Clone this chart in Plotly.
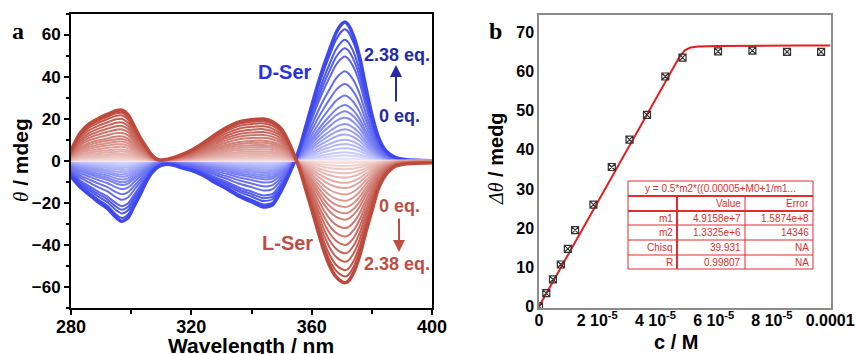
import numpy as np
import plotly.graph_objects as go

# ---------------- Panel a: CD titration spectra ----------------
wavelength = [280, 283, 286, 289, 292, 295, 297, 299, 301, 303, 305, 307, 309, 311,
              314, 317, 320, 324, 328, 332, 336, 340, 344, 347, 350, 352, 354, 356,
              358, 360, 362, 364, 366, 368, 370, 371, 372, 374, 376, 378, 380, 382,
              384, 386, 388, 391, 395, 400]

# spectra at 2.38 eq.
d_ser_final = [-7.5, -12.5, -16, -19.5, -22.5, -27, -28.8, -27, -21.5, -16, -10, -5.5, -2.8, -1.8,
               -2, -3.5, -4.5, -7, -10.5, -13.5, -17, -19.5, -22, -21, -14, -8, -1.5, 6,
               16, 26, 36, 45, 53, 60.5, 65, 66, 65, 59, 49, 35, 22, 12,
               6, 3, 1.5, 0.6, 0.2, 0]
l_ser_final = [5, 13, 17.5, 20, 22, 23.8, 24, 21.8, 16.5, 11, 6.5, 2.5, 0.5, 0.5,
               1.5, 3, 5, 8.5, 12.5, 16, 18.5, 19.5, 19.8, 18.5, 15, 10, 3.5, -4,
               -13.5, -23, -33, -42.5, -50, -55, -57.5, -58, -57.5, -53, -45, -34, -24, -14,
               -8, -4.5, -2.5, -1.5, -1.2, -1]

# band intensity at 371 nm for each addition (0 eq. -> 2.38 eq.)
d_ser_peak = [0, 1, 2.5, 4, 6, 8, 10, 12.5, 15, 17.5, 20.5, 23.5, 26.5, 31, 36.5,
              42.5, 49.5, 53.5, 57.5, 62.5, 66]
l_ser_peak = [0, -1, -2.5, -4, -6, -8, -10.5, -13, -16, -19, -22, -25, -28, -32, -36,
              -40, -44, -48, -52, -55, -58]

# ---------------- Panel b: titration curve ----------------
conc = [0, 2.5e-6, 4.8e-6, 7.5e-6, 9.9e-6, 1.24e-5, 1.87e-5, 2.5e-5, 3.11e-5, 3.71e-5,
        4.34e-5, 4.93e-5, 6.15e-5, 7.33e-5, 8.52e-5, 9.69e-5]
dtheta = [0, 3.4, 6.9, 10.7, 14.7, 19.5, 26.0, 35.6, 42.6, 48.9,
          58.7, 63.5, 65.1, 65.3, 65.0, 65.0]

# fitted parameters
m1 = 4.9158e7
m2 = 1.3325e6
c0 = 0.00005

table_header = "y = 0.5*m2*((0.00005+M0+1/m1..."
table_cols = ["", "Value", "Error"]
table_rows = [["m1", "4.9158e+7", "1.5874e+8"],
              ["m2", "1.3325e+6", "14346"],
              ["Chisq", "39.931", "NA"],
              ["R", "0.99807", "NA"]]

W, H = 856, 354


def px(x):
    return x / W


def py(y):
    return 1 - y / H


fig = go.Figure()


def mix(c_light, c_dark, t):
    return "rgb(%d,%d,%d)" % tuple(int(round(a + (b - a) * t)) for a, b in zip(c_light, c_dark))


def add_family(final, peaks, light, dark):
    n = len(peaks)
    ref = peaks[-1]
    for k, p in enumerate(peaks):
        t = (k / (n - 1)) ** 0.8
        y = [v * p / ref for v in final]
        fig.add_trace(go.Scatter(
            x=wavelength, y=y, mode="lines",
            line=dict(color=mix(light, dark, t), width=3.5 if k == n - 1 else 2, shape="spline", smoothing=0.6),
            xaxis="x", yaxis="y", showlegend=False, hoverinfo="skip"))


add_family(d_ser_final, d_ser_peak, (238, 240, 255), (62, 72, 236))
add_family(l_ser_final, l_ser_peak, (250, 236, 233), (190, 74, 62))

# titration data and fit
xf = np.linspace(0, 1e-4, 400)
s = c0 + xf + 1 / m1
yf = 0.5 * m2 * (s - np.sqrt(s ** 2 - 4 * c0 * xf))
fig.add_trace(go.Scatter(x=xf, y=yf, mode="lines", line=dict(color="rgb(228,30,30)", width=2),
                         xaxis="x2", yaxis="y2", showlegend=False))
fig.add_trace(go.Scatter(x=conc, y=dtheta, mode="markers",
                         marker=dict(symbol="square-x-open", size=7, color="#333333", line=dict(width=1.2)),
                         xaxis="x2", yaxis="y2", showlegend=False))

tickfont_a_y = dict(family="Liberation Sans", size=17, color="black", weight="bold")
tickfont_a_x = dict(family="Liberation Sans", size=18, color="black", weight="bold")
tickfont_b = dict(family="Liberation Sans", size=16, color="black", weight="bold")

fig.update_layout(
    width=W, height=H, margin=dict(l=0, r=0, t=0, b=0, autoexpand=False),
    plot_bgcolor="white", paper_bgcolor="white",
    xaxis=dict(domain=[px(71), px(432)], range=[280, 400], tickvals=[280, 320, 360, 400], automargin=False,
               showgrid=False, zeroline=False, showline=True, linecolor="black", linewidth=2, mirror=True,
               ticks="outside", ticklen=5, tickwidth=2, tickcolor="black", tickfont=tickfont_a_x,
               ticklabelstandoff=-4,
               minor=dict(tickvals=[300, 340, 380], ticks="outside", ticklen=4, tickwidth=1.5, tickcolor="black")),
    yaxis=dict(domain=[py(308), py(13.5)], range=[-70, 70], tickvals=[-60, -40, -20, 0, 20, 40, 60],
               automargin=False,
               showgrid=False, zeroline=False, showline=True, linecolor="black", linewidth=2, mirror=True,
               ticks="outside", ticklen=5, tickwidth=2, tickcolor="black", tickfont=tickfont_a_y,
               minor=dict(tickvals=[-70, -50, -30, -10, 10, 30, 50, 70], ticks="outside", ticklen=3,
                          tickwidth=1.5, tickcolor="black")),
    xaxis2=dict(domain=[px(539), px(831)], range=[0, 1.003e-4], anchor="y2", automargin=False,
                tickvals=[0, 2e-5, 4e-5, 6e-5, 8e-5, 1e-4],
                ticktext=["0", "2 10<sup>-5</sup>", "4 10<sup>-5</sup>", "6 10<sup>-5</sup>",
                          "8 10<sup>-5</sup>", "0.0001"],
                showgrid=False, zeroline=False, showline=True, linecolor="#8c8c8c", linewidth=1.5, mirror=True,
                ticks="", tickfont=tickfont_b, ticklabelstandoff=-3),
    yaxis2=dict(domain=[py(308), py(15)], range=[-0.4, 74.4], anchor="x2", automargin=False,
                tickvals=[0, 10, 20, 30, 40, 50, 60, 70],
                showgrid=False, zeroline=False, showline=True, linecolor="#8c8c8c", linewidth=1.5, mirror=True,
                ticks="", tickfont=tickfont_b),
)

ann = []


def label(x, y, text, font, xanchor="center", textangle=0):
    ann.append(dict(x=px(x), y=py(y), xref="paper", yref="paper", showarrow=False, text=text,
                    font=font, xanchor=xanchor, yanchor="middle", textangle=textangle))


# axis titles
label(251, 345, "<b>Wavelength / nm</b>", dict(family="Liberation Sans", size=21, color="black"))
label(21, 160, "<span style=\"font-family:Liberation Serif\"><i>θ</i></span><b> / mdeg</b>",
      dict(family="Liberation Sans", size=21, color="black"), textangle=-90)
label(676, 342, "<b>c / M</b>", dict(family="Liberation Sans", size=20, color="black"))
label(496, 158, "<span style=\"font-family:Liberation Serif\"><i>Δθ</i></span><b> / medg</b>",
      dict(family="Liberation Sans", size=20, color="black"), textangle=-90)
# panel letters
label(17.5, 31, "<b>a</b>", dict(family="Liberation Serif", size=24, color="black"))
label(495, 31, "<b>b</b>", dict(family="Liberation Serif", size=24, color="black"))

blue_lbl = "rgb(40,50,225)"
blue_eq = "rgb(35,45,160)"
red_lbl = "rgb(190,78,68)"


def lab_font(c, s):
    return dict(family="Liberation Sans", size=s, color=c)


label(285, 72, "<b>D-Ser</b>", lab_font(blue_lbl, 20))
label(397, 55, "<b>2.38 eq.</b>", lab_font(blue_eq, 18))
label(399, 116, "<b>0 eq.</b>", lab_font(blue_eq, 18))
label(287, 243, "<b>L-Ser</b>", lab_font(red_lbl, 20))
label(399, 206, "<b>0 eq.</b>", lab_font(red_lbl, 18))
label(397, 264, "<b>2.38 eq.</b>", lab_font(red_lbl, 18))

# arrows (tail offsets in pixels)
ann.append(dict(x=px(396), y=py(65), ax=0, ay=38, xref="paper", yref="paper",
                showarrow=True, arrowhead=2, arrowsize=1.2,
                arrowwidth=2, arrowcolor=blue_eq, text=""))
ann.append(dict(x=px(399), y=py(252), ax=0, ay=-35, xref="paper", yref="paper",
                showarrow=True, arrowhead=2, arrowsize=1.2,
                arrowwidth=2, arrowcolor=red_lbl, text=""))

# fit results table
tl, tr, c1, c2 = 628, 813, 677, 745
rows_y = [181, 196, 211, 225, 240, 255, 269]
tcol = "rgb(225,45,45)"
shapes = [dict(type="rect", xref="paper", yref="paper", x0=px(tl), x1=px(tr), y0=py(rows_y[-1]), y1=py(rows_y[0]),
               line=dict(color=tcol, width=1), fillcolor="white", layer="above")]
for i, yy in enumerate(rows_y[1:-1], start=1):
    shapes.append(dict(type="line", xref="paper", yref="paper", x0=px(tl), x1=px(tr), y0=py(yy), y1=py(yy),
                       line=dict(color=tcol, width=2 if i <= 2 else 1), layer="above"))
shapes.append(dict(type="line", xref="paper", yref="paper", x0=px(c1), x1=px(c1), y0=py(rows_y[1]), y1=py(rows_y[-1]),
                   line=dict(color=tcol, width=2), layer="above"))
shapes.append(dict(type="line", xref="paper", yref="paper", x0=px(c2), x1=px(c2), y0=py(rows_y[1]), y1=py(rows_y[-1]),
                   line=dict(color=tcol, width=1), layer="above"))

tfont = dict(family="Liberation Sans", size=10, color=tcol)
label((tl + tr) / 2, (rows_y[0] + rows_y[1]) / 2, table_header, tfont)
table_lines = [table_cols] + table_rows
for r, row in enumerate(table_lines):
    yc = (rows_y[r + 1] + rows_y[r + 2]) / 2
    for xr, txt in zip([c1 - 2, c2 - 2, tr - 2], row):
        if txt:
            label(xr, yc, txt, tfont, xanchor="right")

fig.update_layout(annotations=ann, shapes=shapes)
fig.write_html("out.html")
